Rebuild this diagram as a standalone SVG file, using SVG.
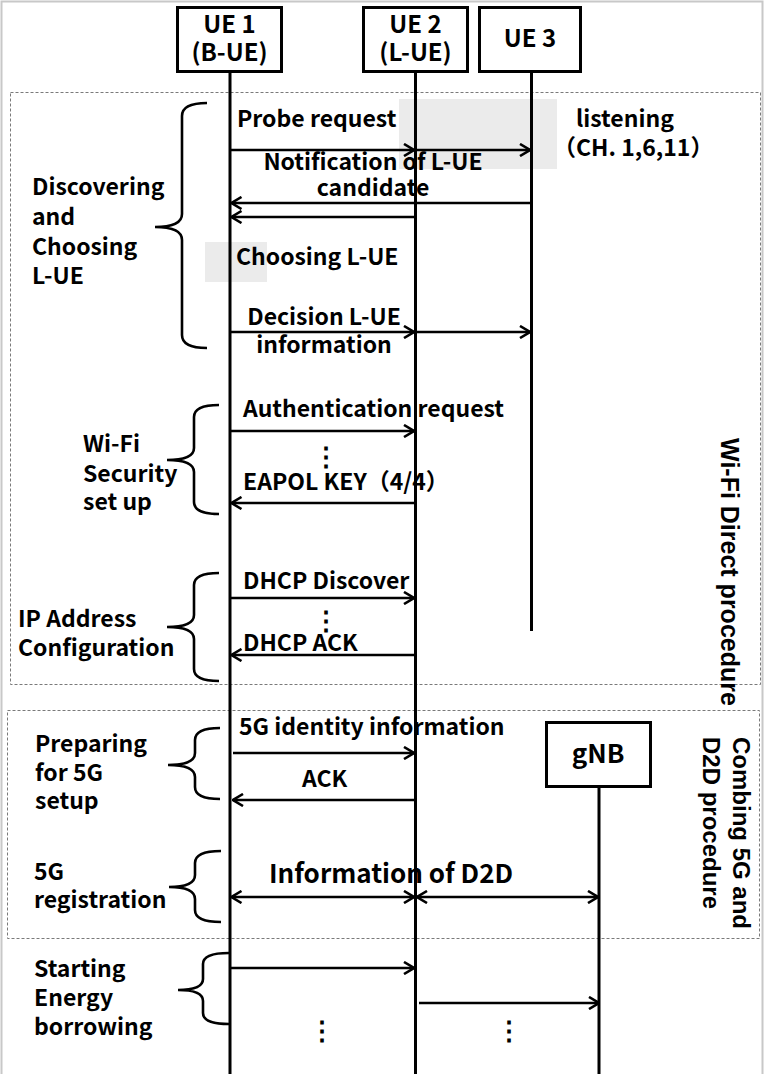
<svg xmlns="http://www.w3.org/2000/svg" width="764" height="1074" viewBox="0 0 764 1074">
  <defs>
    <style>
      .lbl { font-family: 'Noto Sans CJK JP', 'Noto Sans', sans-serif; font-weight: 700; font-size: 23px; fill: #000; }
      .head { font-size: 24px; }
      .mid { text-anchor: middle; }
      .dots { font-size: 26px; }
      .vt { font-family: 'Liberation Sans', Arial, sans-serif; font-weight: 700; font-size: 25px; fill: #000; }
      .vt2 { font-size: 24px; }
      .box { fill: #fff; stroke: #000; stroke-width: 3; }
      .life { stroke: #000; stroke-width: 3; fill: none; }
      .msg { stroke: #000; stroke-width: 2.6; fill: none; marker-end: url(#head); }
      .both { marker-start: url(#head); }
      .brace { stroke: #000; stroke-width: 2.6; fill: none; }
      .frame { stroke: #7a7a7a; stroke-width: 1; stroke-dasharray: 3 2; fill: none; }
      .shade { fill: #ebebeb; }
    </style>
    <marker id="head" viewBox="0 0 12 14" refX="11" refY="7" markerWidth="12" markerHeight="14" markerUnits="userSpaceOnUse" orient="auto-start-reverse">
      <path d="M1,1 L11,7 L1,13" fill="none" stroke="#000" stroke-width="2.6"/>
    </marker>
  </defs>

  <rect width="764" height="1074" fill="#fff"/>
  <!-- thin outer edge -->
  <path d="M1.5,1074 V1.5 H762.5 V1074" fill="none" stroke="#c8c8c8" stroke-width="2"/>

  <!-- procedure frames -->
  <g id="frames">
    <rect class="frame" x="10.5" y="92.5" width="750" height="592"/>
    <rect class="frame" x="7.5" y="710.5" width="752" height="228"/>
    <text class="vt" transform="translate(721,438) rotate(90)">Wi-Fi Direct procedure</text>
    <text class="vt vt2" transform="translate(733,737) rotate(90)">Combing 5G and</text>
    <text class="vt vt2" transform="translate(703,737) rotate(90)">D2D procedure</text>
  </g>

  <!-- highlighted areas -->
  <rect class="shade" x="399" y="99" width="158" height="70"/>
  <rect class="shade" x="205" y="242" width="62" height="40"/>

  <!-- participants -->
  <g id="ue1">
    <line class="life" x1="230" y1="72" x2="230" y2="1074"/>
    <rect class="box" x="177.5" y="7.5" width="104" height="64"/>
    <text class="lbl head mid" x="229.5" y="33">UE 1</text>
    <text class="lbl head mid" x="229.5" y="61">(B-UE)</text>
  </g>
  <g id="ue2">
    <line class="life" x1="415.5" y1="72" x2="415.5" y2="1074"/>
    <rect class="box" x="363.5" y="7.5" width="104" height="64"/>
    <text class="lbl head mid" x="415.5" y="33">UE 2</text>
    <text class="lbl head mid" x="415.5" y="61">(L-UE)</text>
  </g>
  <g id="ue3">
    <line class="life" x1="531.5" y1="72" x2="531.5" y2="631"/>
    <rect class="box" x="479.5" y="7.5" width="101" height="64"/>
    <text class="lbl head mid" x="530" y="47">UE 3</text>
  </g>
  <g id="gnb">
    <line class="life" x1="599" y1="786" x2="599" y2="1074"/>
    <rect class="box" x="546.5" y="722.5" width="104" height="64"/>
    <text class="lbl mid" x="598" y="763" style="font-size:26px">gNB</text>
  </g>

  <!-- messages -->
  <g id="connectors">
    <line class="msg" x1="231" y1="150" x2="414" y2="150"/>
    <line class="msg" x1="417" y1="150" x2="530" y2="150"/>
    <line class="msg" x1="531" y1="203" x2="231.5" y2="203"/>
    <line class="msg" x1="415" y1="217" x2="231.5" y2="217"/>
    <line class="msg" x1="231" y1="332" x2="414" y2="332"/>
    <line class="msg" x1="417" y1="332" x2="530" y2="332"/>
    <line class="msg" x1="231" y1="431" x2="414" y2="431"/>
    <line class="msg" x1="415" y1="503" x2="231.5" y2="503"/>
    <line class="msg" x1="231" y1="598" x2="414" y2="598"/>
    <line class="msg" x1="415" y1="655" x2="231.5" y2="655"/>
    <line class="msg" x1="233" y1="753" x2="414" y2="753"/>
    <line class="msg" x1="415" y1="800" x2="233" y2="800"/>
    <line class="msg both" x1="231.5" y1="897" x2="414" y2="897"/>
    <line class="msg both" x1="417" y1="897" x2="598" y2="897"/>
    <line class="msg" x1="231" y1="968" x2="414" y2="968"/>
    <line class="msg" x1="419" y1="1003" x2="599" y2="1003"/>
  </g>

  <!-- message labels -->
  <g id="message-labels">
    <text class="lbl" x="237" y="127">Probe request</text>
    <text class="lbl mid" x="373" y="170">Notification of L-UE</text>
    <text class="lbl mid" x="373" y="196">candidate</text>
    <text class="lbl" x="236" y="265">Choosing L-UE</text>
    <text class="lbl mid" x="324" y="325">Decision L-UE</text>
    <text class="lbl mid" x="324" y="353">information</text>
    <text class="lbl" x="576" y="127">listening</text>
    <text class="lbl" x="553" y="156">（CH. 1,6,11）</text>
    <text class="lbl" x="243" y="417">Authentication request</text>
    <text class="lbl dots mid" x="326" y="466">⋮</text>
    <text class="lbl" x="243" y="490">EAPOL KEY（4/4）</text>
    <text class="lbl" x="243" y="589">DHCP Discover</text>
    <text class="lbl dots mid" x="326" y="630">⋮</text>
    <text class="lbl" x="243" y="651">DHCP ACK</text>
    <text class="lbl" x="239" y="735">5G identity information</text>
    <text class="lbl" x="302" y="787">ACK</text>
    <text class="lbl" x="269" y="883" style="font-size:26px">Information of D2D</text>
    <text class="lbl dots mid" x="322" y="1040">⋮</text>
    <text class="lbl dots mid" x="509" y="1040">⋮</text>
  </g>

  <!-- phase brackets -->
  <g id="phase-discover">
    <path class="brace" d="M207,103 Q182,103 182,116 V214 Q182,227 155,227 Q182,227 182,240 V335 Q182,348 207,348"/>
    <text class="lbl" x="32" y="195">Discovering</text>
    <text class="lbl" x="32" y="225">and</text>
    <text class="lbl" x="32" y="255">Choosing</text>
    <text class="lbl" x="32" y="284">L-UE</text>
  </g>
  <g id="phase-security">
    <path class="brace" d="M219,405 Q194,405 194,417 V448 Q194,460 167,460 Q194,460 194,472 V502 Q194,514 219,514"/>
    <text class="lbl" x="83" y="452">Wi-Fi</text>
    <text class="lbl" x="83" y="482">Security</text>
    <text class="lbl" x="83" y="510">set up</text>
  </g>
  <g id="phase-ip">
    <path class="brace" d="M219,573 Q194,573 194,585 V615 Q194,627 167,627 Q194,627 194,639 V669 Q194,681 219,681"/>
    <text class="lbl" x="18" y="627">IP Address</text>
    <text class="lbl" x="18" y="656">Configuration</text>
  </g>
  <g id="phase-prepare">
    <path class="brace" d="M220,728 Q195,728 195,740 V753 Q195,765 168,765 Q195,765 195,777 V787 Q195,799 220,799"/>
    <text class="lbl" x="35" y="752">Preparing</text>
    <text class="lbl" x="35" y="781">for 5G</text>
    <text class="lbl" x="35" y="809">setup</text>
  </g>
  <g id="phase-register">
    <path class="brace" d="M221,851 Q195,851 195,863 V875 Q195,887 169,887 Q195,887 195,899 V910 Q195,922 221,922"/>
    <text class="lbl" x="34" y="880">5G</text>
    <text class="lbl" x="34" y="908">registration</text>
  </g>
  <g id="phase-energy">
    <path class="brace" d="M229,953 Q203,953 203,964 V979 Q203,990 178,990 Q203,990 203,1001 V1013 Q203,1024 229,1024"/>
    <text class="lbl" x="34" y="977">Starting</text>
    <text class="lbl" x="34" y="1006">Energy</text>
    <text class="lbl" x="34" y="1035">borrowing</text>
  </g>
</svg>
